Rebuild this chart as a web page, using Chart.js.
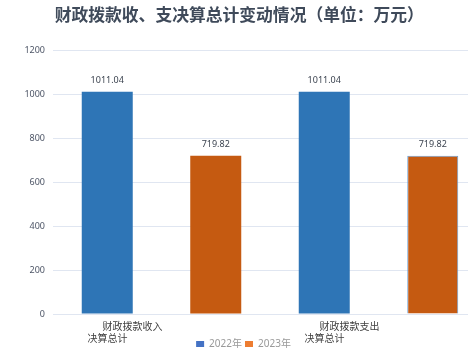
<!DOCTYPE html>
<html>
<head>
<meta charset="utf-8">
<script src="https://cdn.jsdelivr.net/npm/chart.js@4.4.0/dist/chart.umd.min.js"></script>
<style>
  html, body { margin: 0; padding: 0; overflow: hidden; background: #fff; }
</style>
</head>
<body>
<canvas id="chart" width="487" height="354"></canvas>
<script>
// Données du graphique
const categories = [
    ['\u3000\u2002财政拨款收入', '决算总计'],
    ['\u3000\u2002财政拨款支出', '决算总计']
];
const seriesNames = ['2022年', '2023年'];
const values2022 = [1011.04, 1011.04];
const values2023 = [719.82, 719.82];
const yTicks = [0, 200, 400, 600, 800, 1000, 1200];

const barColors = ['#2e75b6', '#c55a11'];
const legendColors = ['#4472c4', '#ed7d31'];
const fontFamily = '"Noto Sans", "Noto Sans CJK SC", sans-serif';

// Valeurs au-dessus des barres
const valueLabels = {
    id: 'valueLabels',
    afterDatasetsDraw(chart) {
        const ctx = chart.ctx;
        ctx.save();
        ctx.font = '9px ' + fontFamily;
        ctx.fillStyle = '#3c4450';
        ctx.textAlign = 'center';
        ctx.textBaseline = 'bottom';
        chart.data.datasets.forEach(function(ds, i) {
            chart.getDatasetMeta(i).data.forEach(function(bar, j) {
                ctx.fillText(ds.data[j].toFixed(2), bar.x, bar.y - 7);
            });
        });
        ctx.restore();
    }
};

// Laisser les libellés de l'axe X déborder, descendre un peu la légende
const labelOverflow = {
    id: 'labelOverflow',
    afterLayout(chart) {
        chart.scales.x.bottom = chart.height;
        chart.legend.top += 5;
        chart.legend.bottom += 5;
    }
};

const ctx = document.getElementById('chart').getContext('2d');
new Chart(ctx, {
    type: 'bar',
    data: {
        labels: categories,
        datasets: [{
            label: seriesNames[0],
            data: values2022,
            backgroundColor: barColors[0],
            borderWidth: 0
        }, {
            label: seriesNames[1],
            data: values2023,
            backgroundColor: barColors[1],
            borderColor: '#6a9fd4',
            borderWidth: [0, 1]
        }]
    },
    options: {
        responsive: false,
        animation: false,
        categoryPercentage: 1,
        barPercentage: 0.47,
        layout: { padding: 0 },
        plugins: {
            title: {
                display: true,
                text: '财政拨款收、支决算总计变动情况（单位：万元）\u2002',
                color: '#3f4a5a',
                font: { family: '"Noto Sans CJK SC", sans-serif', size: 16.8, weight: 'bold' },
                padding: { top: 5, bottom: 25 }
            },
            legend: {
                position: 'bottom',
                labels: {
                    boxWidth: 8,
                    boxHeight: 6,
                    padding: 3,
                    color: '#999999',
                    font: { family: fontFamily, size: 10 },
                    generateLabels: function(chart) {
                        return chart.data.datasets.map(function(ds, i) {
                            return {
                                text: ds.label,
                                fillStyle: legendColors[i],
                                strokeStyle: legendColors[i],
                                lineWidth: 0,
                                fontColor: '#999999',
                                datasetIndex: i
                            };
                        });
                    }
                }
            },
            tooltip: { enabled: false }
        },
        scales: {
            x: {
                grid: { display: false, drawTicks: false },
                border: { color: '#e0e6f1' },
                ticks: {
                    color: '#404040',
                    align: 'start',
                    labelOffset: -74,
                    padding: 7,
                    maxRotation: 0,
                    autoSkip: false,
                    font: { family: fontFamily, size: 10, lineHeight: 1.2 }
                },
                afterFit: function(scale) { scale.height = 17; }
            },
            y: {
                min: 0,
                max: 1200,
                afterBuildTicks: function(scale) {
                    scale.ticks = yTicks.map(function(v) { return { value: v }; });
                },
                afterFit: function(scale) { scale.width = 53; },
                grid: { color: '#e0e6f1', drawTicks: false },
                border: { display: false },
                ticks: {
                    color: '#4d5566',
                    padding: 8,
                    font: { family: fontFamily, size: 9 },
                    callback: function(v) { return String(v); }
                }
            }
        }
    },
    plugins: [valueLabels, labelOverflow]
});
</script>
</body>
</html>
